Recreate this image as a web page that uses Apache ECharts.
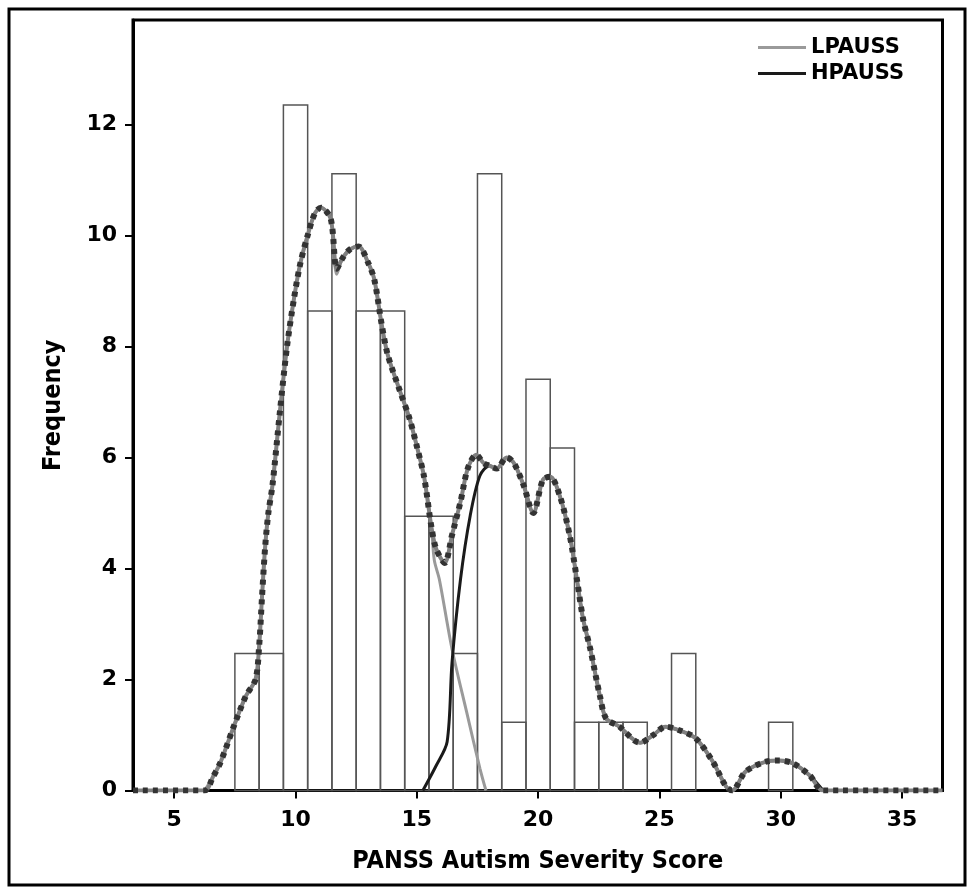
<!DOCTYPE html>
<html>
<head>
<meta charset="utf-8">
<title>PANSS Autism Severity Score</title>
<script src="https://cdn.jsdelivr.net/npm/echarts@6.0.0/dist/echarts.min.js"></script>
<style>
  html, body { margin: 0; padding: 0; background: #fff; }
  #chart { width: 978px; height: 893px; }
</style>
</head>
<body>
<div id="chart"></div>
<script>
// histogram bins (score, frequency)
const scores = [8, 9, 10, 11, 12, 13, 14, 15, 16, 17, 18, 19, 20, 21, 22, 23, 24, 26, 30]
const freqs = [2.47, 2.47, 12.35, 8.64, 11.11, 8.64, 8.64, 4.94, 4.94, 2.47, 11.11, 1.23, 7.41, 6.17, 1.23, 1.23, 1.23, 2.47, 1.23]

const xTicks = [5, 10, 15, 20, 25, 30, 35]
const yTicks = [0, 2, 4, 6, 8, 10, 12]

// LPAUSS curve
const lpauss = [
  [6.25, 0], [6.6, 0.25], [6.9, 0.5], [7.45, 1.15], [7.95, 1.7], [8.35, 2.0], [8.5, 2.6],
  [8.62, 3.5], [8.75, 4.4], [8.88, 5.0], [9.05, 5.5], [9.35, 6.8], [9.65, 8.0], [9.95, 8.9],
  [10.2, 9.5], [10.5, 10.0], [10.8, 10.4], [11.05, 10.5], [11.45, 10.3], [11.7, 9.3],
  [11.95, 9.6], [12.25, 9.75], [12.6, 9.8], [13.0, 9.5], [13.25, 9.2], [13.55, 8.4],
  [13.8, 7.85], [14.3, 7.2], [14.7, 6.7], [15.0, 6.2], [15.3, 5.65], [15.6, 4.75],
  [15.72, 4.15], [15.93, 3.8], [16.45, 2.55], [17.05, 1.42], [17.6, 0.4], [17.85, 0]
]

// HPAUSS curve
const hpauss = [
  [15.25, 0], [15.8, 0.45], [16.25, 0.88], [16.45, 2.3], [16.8, 3.8], [17.2, 4.95],
  [17.6, 5.67], [18.0, 5.85], [18.3, 5.8], [18.7, 6.0], [19.0, 5.9], [19.4, 5.5],
  [19.8, 5.0], [20.2, 5.6], [20.5, 5.65], [20.9, 5.3], [21.3, 4.6], [21.6, 3.8],
  [21.85, 3.1], [22.15, 2.55], [22.55, 1.7], [22.8, 1.3], [23.35, 1.15], [24.2, 0.86],
  [24.75, 1.0], [25.25, 1.15], [25.85, 1.08], [26.5, 0.94], [27.2, 0.52], [27.75, 0.07],
  [28.0, 0], [28.55, 0.34], [29.4, 0.52], [29.95, 0.54], [30.5, 0.49], [31.2, 0.27], [31.75, 0]
]

// whole sample (dashed)
const total = [
  [3.3, 0], [6.25, 0], [6.6, 0.25], [6.9, 0.5], [7.45, 1.15], [7.95, 1.7], [8.35, 2.0],
  [8.5, 2.6], [8.62, 3.5], [8.75, 4.4], [8.88, 5.0], [9.05, 5.5], [9.35, 6.8], [9.65, 8.0],
  [9.95, 8.9], [10.2, 9.5], [10.5, 10.0], [10.8, 10.4], [11.05, 10.5], [11.45, 10.3],
  [11.7, 9.4], [11.95, 9.6], [12.25, 9.75], [12.6, 9.8], [13.0, 9.5], [13.25, 9.2],
  [13.55, 8.4], [13.8, 7.85], [14.3, 7.2], [14.7, 6.7], [15.0, 6.2], [15.3, 5.65],
  [15.6, 4.75], [15.8, 4.35], [16.15, 4.1], [16.45, 4.6], [16.8, 5.2], [17.1, 5.8],
  [17.45, 6.05], [17.75, 5.9], [18.0, 5.85], [18.3, 5.8], [18.7, 6.0], [19.0, 5.9],
  [19.4, 5.5], [19.8, 5.0], [20.2, 5.6], [20.5, 5.65], [20.9, 5.3], [21.3, 4.6],
  [21.6, 3.8], [21.85, 3.1], [22.15, 2.55], [22.55, 1.7], [22.8, 1.3], [23.35, 1.15],
  [24.2, 0.86], [24.75, 1.0], [25.25, 1.15], [25.85, 1.08], [26.5, 0.94], [27.2, 0.52],
  [27.75, 0.07], [28.0, 0], [28.55, 0.34], [29.4, 0.52], [29.95, 0.54], [30.5, 0.49],
  [31.2, 0.27], [31.75, 0], [36.67, 0]
]

const chart = echarts.init(document.getElementById('chart'), null, {renderer: 'canvas'})

const bold = {fontFamily: 'DejaVu Sans', fontWeight: 'bold', color: '#000'}
const titleFont = {fontFamily: 'DejaVu Sans Condensed', fontWeight: 'bold', color: '#000', fontSize: 25}

chart.setOption({
  animation: false,
  backgroundColor: '#fff',
  grid: {
    left: 133, right: 35.5, top: 20, bottom: 102.5,
    show: true, borderColor: '#000', borderWidth: 3
  },
  legend: {
    data: ['LPAUSS', 'HPAUSS'],
    orient: 'vertical',
    left: 753, top: 32,
    icon: 'rect',
    itemWidth: 48, itemHeight: 3, itemGap: 5,
    textStyle: Object.assign({}, bold, {fontSize: 21, lineHeight: 21, padding: [0, 0, 0, 0]})
  },
  xAxis: {
    type: 'value', min: 3.3, max: 36.67,
    name: 'PANSS Autism Severity Score',
    nameLocation: 'middle', nameGap: 58,
    nameTextStyle: titleFont,
    axisLine: {show: true, lineStyle: {color: '#000', width: 3}},
    axisTick: {show: true, customValues: xTicks, length: 8, lineStyle: {color: '#000', width: 2}},
    axisLabel: Object.assign({customValues: xTicks, fontSize: 22, margin: 19}, bold),
    splitLine: {show: false}
  },
  yAxis: {
    type: 'value', min: 0, max: 13.88,
    name: 'Frequency',
    nameLocation: 'middle', nameGap: 67,
    nameTextStyle: titleFont,
    axisLine: {show: true, lineStyle: {color: '#000', width: 3}},
    axisTick: {show: true, customValues: yTicks, length: 8, lineStyle: {color: '#000', width: 2}},
    axisLabel: Object.assign({customValues: yTicks, fontSize: 22, margin: 16}, bold),
    splitLine: {show: false}
  },
  graphic: [{
    type: 'rect', silent: true, z: -10,
    shape: {x: 9, y: 9, width: 956, height: 876},
    style: {fill: 'none', stroke: '#000', lineWidth: 3}
  }],
  series: [
    {
      type: 'custom',
      name: 'bins',
      data: scores.map((s, i) => [s, freqs[i]]),
      z: 1,
      renderItem: (params, api) => {
        const x = api.value(0)
        const y = api.value(1)
        const p0 = api.coord([x - 0.5, y])
        const p1 = api.coord([x + 0.5, 0])
        return {
          type: 'rect',
          shape: {x: p0[0], y: p0[1], width: p1[0] - p0[0], height: p1[1] - p0[1]},
          style: {fill: 'none', stroke: '#555', lineWidth: 1.5}
        }
      }
    },
    {
      type: 'line', name: 'LPAUSS', data: lpauss, color: '#9a9a9a',
      symbol: 'none', smooth: 0.3, z: 3,
      lineStyle: {color: '#9a9a9a', width: 3}
    },
    {
      type: 'line', name: 'HPAUSS', data: hpauss, color: '#1a1a1a',
      symbol: 'none', smooth: 0.3, z: 3,
      lineStyle: {color: '#1a1a1a', width: 3}
    },
    {
      type: 'line', name: 'total', data: total,
      symbol: 'none', smooth: 0.3, z: 4,
      lineStyle: {color: '#808080', width: 4}
    },
    {
      type: 'line', name: 'total dashes', data: total,
      symbol: 'none', smooth: 0.3, z: 5,
      lineStyle: {color: '#333', width: 6, type: [5, 5]}
    }
  ]
})
</script>
</body>
</html>
